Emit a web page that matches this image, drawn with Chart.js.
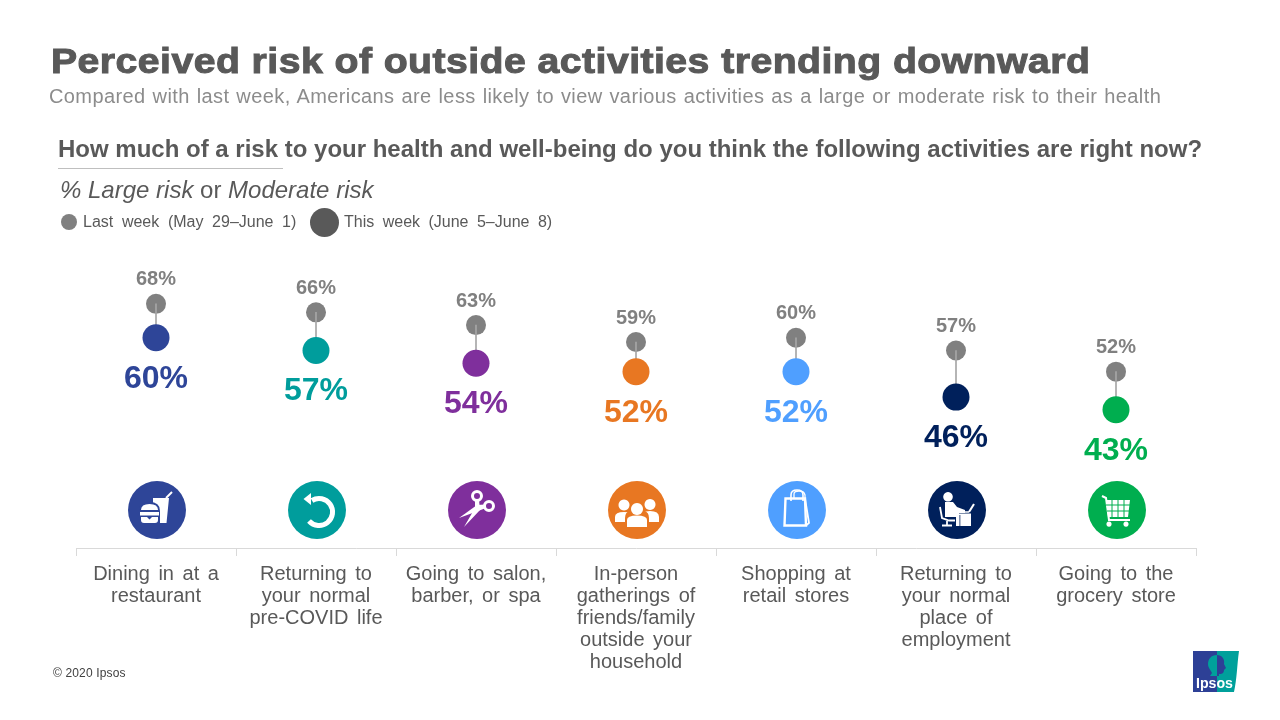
<!DOCTYPE html>
<html>
<head>
<meta charset="utf-8">
<script src="https://cdn.jsdelivr.net/npm/chart.js@4/dist/chart.umd.min.js"></script>
<style>
html,body{margin:0;padding:0;background:#fff;width:1280px;height:720px;overflow:hidden;font-family:"Liberation Sans",Arial,sans-serif}
#c{position:absolute;left:0;top:0}
.t{position:absolute;white-space:nowrap;line-height:1;color:#595959}
.dot{position:absolute;border-radius:50%}
</style>
</head>
<body>
<canvas id="c" width="1280" height="720"></canvas>
<div class="t" style="left:51px;top:43px;font-size:35px;font-weight:bold;letter-spacing:.4px;transform:scaleX(1.12);transform-origin:0 0;-webkit-text-stroke:1px #595959">Perceived risk of outside activities trending downward</div>
<div class="t" style="left:49px;top:86px;font-size:20px;color:#8c8c8c;letter-spacing:.4px;word-spacing:1px">Compared with last week, Americans are less likely to view various activities as a large or moderate risk to their health</div>
<div class="t" style="left:58px;top:137px;font-size:24px;font-weight:bold">How much of a risk to your health and well-being do you think the following activities are right now?</div>
<div style="position:absolute;left:58px;top:168px;width:225px;height:1px;background:#bfbfbf"></div>
<div class="t" style="left:60px;top:178px;font-size:24px"><i>% Large risk</i> or <i>Moderate risk</i></div>
<div class="dot" style="left:61px;top:214px;width:16px;height:16px;background:#808080"></div>
<div class="t" style="left:83px;top:214px;font-size:16px;word-spacing:4.2px">Last week (May 29–June 1)</div>
<div class="dot" style="left:310px;top:208px;width:29px;height:29px;background:#595959"></div>
<div class="t" style="left:344px;top:214px;font-size:16px;word-spacing:4px">This week (June 5–June 8)</div>
<div class="t" style="left:53px;top:667px;font-size:12px;color:#404040;letter-spacing:.15px">© 2020 Ipsos</div>
<svg style="position:absolute;left:1193px;top:651px" width="46" height="41" viewBox="0 0 46 41">
<path d="M24 0H46C44 14 44 28 41 41H0V0Z" fill="#00a09b"/>
<path d="M0 0H24V41H0Z" fill="#2d4096"/>
<path d="M24 4C18 4 15 8 15 13C15 17 18 19 19 22L17 25H24Z" fill="#00a09b"/>
<path d="M24 4C29 4 32 8 31 13L33 17L31 19C31 23 28 23 26 23L26 25H24Z" fill="#2d4096"/>
<text x="3" y="37" font-family="Liberation Sans" font-weight="bold" font-size="15" fill="#fff" textLength="37" lengthAdjust="spacingAndGlyphs">Ipsos</text>
</svg>
<script>
const categories = [
  ["Dining in at a","restaurant"],
  ["Returning to","your normal","pre-COVID life"],
  ["Going to salon,","barber, or spa"],
  ["In-person","gatherings of","friends/family","outside your","household"],
  ["Shopping at","retail stores"],
  ["Returning to","your normal","place of","employment"],
  ["Going to the","grocery store"]
];
const lastWeek = [68,66,63,59,60,57,52];
const thisWeek = [60,57,54,52,52,46,43];
const seriesColors = ["#2e4598","#009d9c","#7f2f9c","#e87722","#4f9fff","#00205b","#00ae4f"];
const lastWeekColor = "#808080";
const connectors = lastWeek.map((v,i)=>[thisWeek[i],v]);

/* Icon glyphs in local units around each badge centre. b/g = badge colour */
const iconGlyphs = [
 [ // food
  {f:"M-4 -12H12L9.5 13H2V-3L-4 -6Z"},{s:"M9 -12L15 -18",w:2},
  {b:"M-18 1Q-18 -8 -7.5 -8Q3 -8 3 1V15H-18Z"},
  {f:"M-16 0Q-16 -6 -7.5 -6Q1 -6 1 0Z"},{f:"M-17 2H2V5.5H-17Z"},
  {f:"M-16 7H-10L-7.5 9.5L-5 7H1V10Q1 13 -2 13H-13Q-16 13 -16 10Z"}
 ],
 [ // return arrow
  {s:"M-5 -9.5A13.5 13.5 0 1 1 -8 11",w:5},{f:"M-13.5 -11L-6 -17V-5Z"}
 ],
 [ // scissors
  {s:"M0 -14m-4.5 0a4.5 4.5 0 1 0 9 0a4.5 4.5 0 1 0 -9 0",w:3},
  {s:"M12 -4m-4.5 0a4.5 4.5 0 1 0 9 0a4.5 4.5 0 1 0 -9 0",w:3},
  {f:"M-18 8L0 -5L8 -5.5L9 -2L1 1Z"},{f:"M-13 17L-2 -2L-2 -9L2 -10L3 0Z"}
 ],
 [ // people
  {f:"M-13 -10.5a5.5 5.5 0 1 0 .01 0Z"},{f:"M13 -11a5.5 5.5 0 1 0 .01 0Z"},
  {f:"M-22 12V7Q-22 2 -13 2Q-4 2 -4 7V12Z"},{f:"M22 12V7Q22 1 13 1Q4 1 4 7V12Z"},
  {b:"M-12 18V8Q-12 2 -7 1A7.5 7.5 0 1 1 7 1Q12 2 12 8V18Z"},
  {f:"M0 -7a6 6 0 1 0 .01 0Z"},{f:"M-10 17V10Q-10 5.5 0 5.5Q10 5.5 10 10V17Z"}
 ],
 [ // bag
  {s:"M-11.5 -11.5H8L9 15.5H-12.5Z",w:2.4},{s:"M8 -11.5L12 13L9 15.5",w:1.8},
  {s:"M-6 -9V-15Q-6 -20 0 -20Q6 -20 6 -15V-9",w:1.6},{s:"M-3 -11V-16Q-3 -19 2 -19Q7 -19 8 -15V-9",w:1.3}
 ],
 [ // desk worker
  {f:"M-9 -18a4.8 4.8 0 1 0 .01 0Z"},
  {f:"M-12 -8H-4L0 -3L8 0V3H2V7H-12Z"},
  {s:"M-17 -3L-15 8L-8 10.5H-2",w:1.8},{s:"M-10 11V15M-15 15.5H-5",w:1.8},
  {f:"M-1 3.5H14V16H-1Z"},{b:"M2.5 5H3.3V16H2.5Z"},{s:"M12 2L17 -6",w:2},{s:"M6 2H12",w:1.5}
 ],
 [ // cart
  {s:"M-15 -14L-11 -12L-8 10H13",w:2},
  {f:"M-11 -10H13L11 7H-9Z"},
  {g:"M-11 -5H13M-10 1H12M-5 -10V7M1 -10V7M7 -10V7",w:1},
  {f:"M-8 11.5a2.6 2.6 0 1 0 .01 0Z"},{f:"M9 11.5a2.6 2.6 0 1 0 .01 0Z"}
 ]
];

const decorations = {
  id:"decorations",
  beforeDraw(chart){
    chart.ctx.wordSpacing="3px";
  },
  afterDatasetsDraw(chart){
    const {ctx,scales:{x,y}} = chart;
    ctx.save();
    ctx.wordSpacing="0px";
    ctx.textAlign="center"; ctx.textBaseline="middle";
    categories.forEach((_,i)=>{
      const px=x.getPixelForValue(i);
      ctx.fillStyle=lastWeekColor; ctx.font='bold 20px "Liberation Sans"';
      ctx.fillText(lastWeek[i]+"%",px,y.getPixelForValue(lastWeek[i])-24);
      ctx.fillStyle=seriesColors[i]; ctx.font='bold 32px "Liberation Sans"';
      ctx.fillText(thisWeek[i]+"%",px,y.getPixelForValue(thisWeek[i])+41);
      // badge
      const badgeY=y.bottom-38;
      ctx.save(); ctx.translate(px+1,badgeY);
      ctx.fillStyle=seriesColors[i];
      ctx.beginPath(); ctx.arc(0,0,29,0,Math.PI*2); ctx.fill();
      iconGlyphs[i].forEach(g=>{
        ctx.lineCap="butt";ctx.lineJoin="miter";
        if(g.f){ctx.fillStyle="#fff";ctx.fill(new Path2D(g.f));}
        if(g.b){ctx.fillStyle=seriesColors[i];ctx.fill(new Path2D(g.b));}
        if(g.s){ctx.strokeStyle="#fff";ctx.lineWidth=g.w;ctx.stroke(new Path2D(g.s));}
        if(g.g){ctx.strokeStyle=seriesColors[i];ctx.lineWidth=g.w;ctx.stroke(new Path2D(g.g));}
      });
      ctx.restore();
    });
    ctx.restore();
  }
};

new Chart(document.getElementById("c"),{
  data:{
    labels:categories,
    datasets:[
      {type:"line",label:"Last week (May 29–June 1)",data:lastWeek,showLine:false,order:3,
       pointRadius:10,pointHoverRadius:10,pointBackgroundColor:lastWeekColor,pointBorderWidth:0},
      {type:"bar",label:"Change",data:connectors,order:2,barThickness:1,backgroundColor:"#a6a6a6",borderWidth:0},
      {type:"line",label:"This week (June 5–June 8)",data:thisWeek,showLine:false,order:1,
       pointRadius:13.5,pointHoverRadius:13.5,pointBackgroundColor:seriesColors,pointBorderWidth:0}
    ]
  },
  plugins:[decorations],
  options:{
    responsive:false,animation:false,
    layout:{padding:{left:76,right:84,top:253,bottom:0}},
    plugins:{legend:{display:false},title:{display:false},tooltip:{enabled:false}},
    scales:{
      x:{
        offset:true,
        afterFit(s){s.height=172;},
        border:{color:"#d9d9d9",width:1},
        grid:{drawOnChartArea:false,drawTicks:true,tickLength:8,color:"#d9d9d9",offset:true},
        ticks:{autoSkip:false,maxRotation:0,minRotation:0,padding:7,color:"#595959",
               font:{family:"Liberation Sans",size:20,lineHeight:1.1}}
      },
      y:{display:false,min:10.4,max:80}
    }
  }
});
</script>
</body>
</html>
